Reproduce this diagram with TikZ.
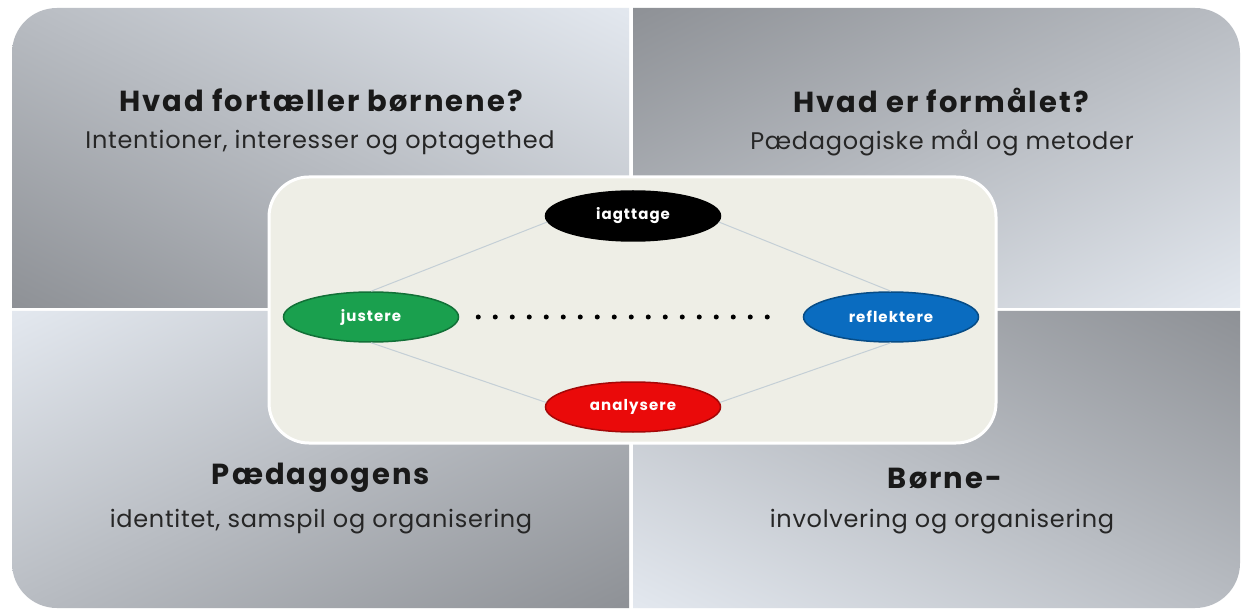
\documentclass[tikz,border=0pt]{standalone}
\usepackage{fontspec}
\setmainfont{Poppins}
\usetikzlibrary{shapes.geometric,shadings}
\definecolor{panelfill}{HTML}{EEEEE6}
\definecolor{quaddark}{HTML}{8E9196}
\definecolor{quadmid}{HTML}{B8BCC2}
\definecolor{quadlight}{HTML}{E3E8EF}
\definecolor{linkgray}{HTML}{C4CFD6}
\definecolor{stagegreen}{HTML}{1AA04E}
\definecolor{stageblue}{HTML}{0A6CC0}
\definecolor{stagered}{HTML}{EA0A0A}

\begin{document}
\begin{tikzpicture}[x=1pt,y=-1pt,
    heading/.style={font=\fontsize{29}{33}\selectfont\bfseries\addfontfeatures{LetterSpace=7},
        text=black!90, inner sep=0pt},
    subline/.style={font=\fontsize{24}{28}\selectfont\addfontfeatures{LetterSpace=3},
        text=black!85, inner sep=0pt},
    stage/.style={ellipse, minimum width=175pt, minimum height=50pt, inner sep=0pt, text=white,
        font=\fontsize{15}{17}\selectfont\bfseries\addfontfeatures{LetterSpace=7}, line width=1.5pt},
    link/.style={linkgray, line width=1pt}]
    \useasboundingbox[fill=white] (0,0) rectangle (1247,609);

    % quadrants
    \shade[upper left=quadmid, upper right=quadlight, lower left=quaddark, lower right=quadmid]
        (12,308) -- (12,53) .. controls (12,28) and (32,8) .. (57,8) -- (629,8) -- (629,308) -- cycle;
    \shade[upper left=quaddark, upper right=quadmid, lower left=quadmid, lower right=quadlight]
        (633,8) -- (1195,8) .. controls (1220,8) and (1240,28) .. (1240,53) -- (1240,308) -- (633,308) -- cycle;
    \shade[upper left=quadlight, upper right=quadmid, lower left=quadmid, lower right=quaddark]
        (12,311) -- (629,311) -- (629,608) -- (57,608) .. controls (32,608) and (12,588) .. (12,563) -- cycle;
    \shade[upper left=quadmid, upper right=quaddark, lower left=quadlight, lower right=quadmid]
        (633,311) -- (1240,311) -- (1240,563) .. controls (1240,588) and (1220,608) .. (1195,608) -- (633,608) -- cycle;

    \node[heading] (q1title) at (321,100) {Hvad fortæller børnene?};
    \node[subline] (q1text) at (320,143) {Intentioner, interesser og optagethed};
    \node[heading] (q2title) at (941,100) {Hvad er formålet?};
    \node[subline] (q2text) at (942,143) {Pædagogiske mål og metoder};
    \node[heading] (q3title) at (321,478) {Pædagogens};
    \node[subline] (q3text) at (321,522) {identitet, samspil og organisering};
    \node[heading] (q4title) at (945,478) {Børne-};
    \node[subline] (q4text) at (942,522) {involvering og organisering};

    % centre panel
    \draw[fill=panelfill, draw=white, line width=3pt, rounded corners=40pt] (269,177) rectangle (996,443);

    \node[stage, fill=black, draw=black] (iagttage) at (633,216) {iagttage};
    \node[stage, fill=stagegreen, draw=stagegreen!70!black] (justere) at (371,317) {justere};
    \node[stage, fill=stageblue, draw=stageblue!70!black] (reflektere) at (891,317) {reflektere};
    \node[stage, fill=stagered, draw=stagered!70!black] (analysere) at (633,407) {analysere};

    \draw[link] (justere.north) -- (iagttage.184);
    \draw[link] (iagttage.356) -- (reflektere.north);
    \draw[link] (justere.south) -- (analysere.177);
    \draw[link] (analysere.3) -- (reflektere.south);
    \draw[line width=5pt, line cap=round, dash pattern=on 0pt off 17pt,
        shorten <=19pt, shorten >=19.5pt] (justere.east) -- (reflektere.west);

\end{tikzpicture}
\end{document}
